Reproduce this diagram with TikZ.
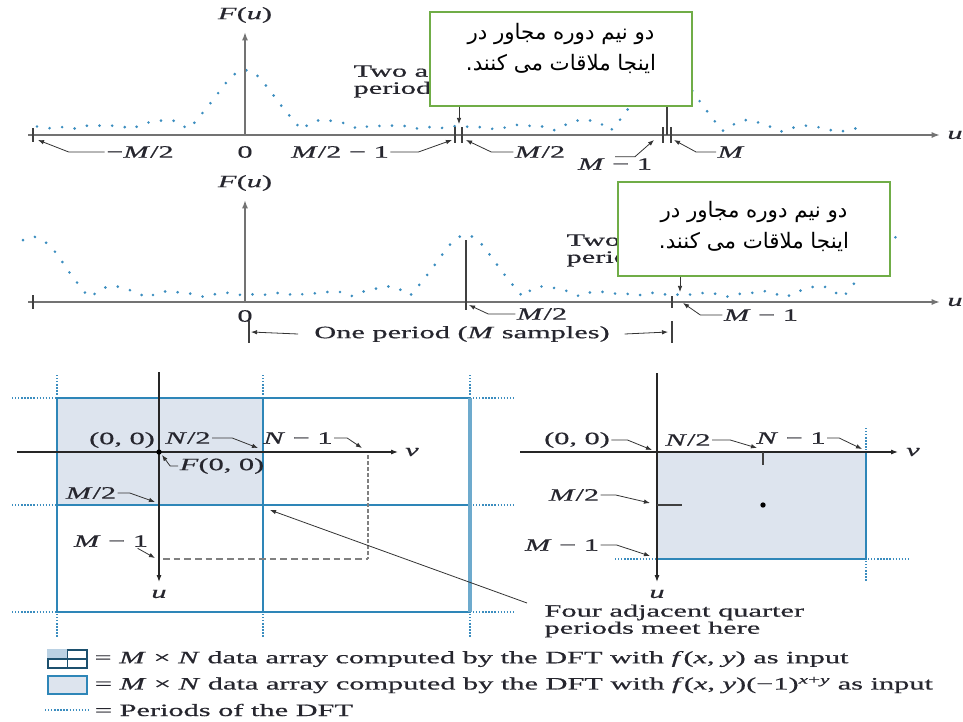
\documentclass[tikz,border=0pt]{standalone}
\usepackage{fontspec}
\setmainfont[FakeStretch=1.75, FakeBold=0.7]{Liberation Serif}
\newfontfamily\farsifont[Script=Arabic]{DejaVu Sans}
\TeXXeTstate=1
\usepackage{xcolor}
\usepackage{tikz}
\usetikzlibrary{arrows.meta,positioning}
\definecolor{dftblue}{HTML}{2E86B8}
\definecolor{dftfill}{HTML}{DDE4EE}
\definecolor{dftdots}{HTML}{3B8DBF}
\definecolor{dftgreen}{HTML}{70AD47}
\definecolor{dftink}{HTML}{26262E}
\newcommand{\mv}[1]{\textit{#1}}
\newcommand{\farsinote}{\beginR دو نیم دوره مجاور در\endR\\
  \beginR اینجا ملاقات می کنند.\endR}
\tikzset{
  dftaxis/.style={-{Latex[length=2.2mm, width=1.6mm]}, line width=1.3pt,
    draw=black!55},
  dftaxisthin/.style={-{Latex[length=1.8mm, width=1.3mm]}, line width=0.8pt,
    draw=black!85},
  dftleader/.style={-{Latex[length=1.6mm, width=1.2mm]}, line width=0.6pt,
    draw=black!80},
  dfttick/.style={line width=1.2pt, draw=black!75},
  dftcurve/.style={draw=dftdots, line width=2.2pt, line cap=round,
    dash pattern=on 0pt off 9.5pt},
  dftgrid/.style={draw=dftblue, line width=1.3pt},
  dftperiod/.style={draw=dftdots, line width=1pt,
    dash pattern=on 1pt off 1.3pt},
  dftlabel/.style={font=\fontsize{13}{11.3}\selectfont, text=dftink,
    inner sep=1pt},
  dftnote/.style={draw=dftgreen, line width=1.6pt, fill=white},
  dftnotetext/.style={align=center, inner sep=0pt,
    font=\farsifont\fontsize{16}{23}\selectfont},
  declare function={snc(\t)=abs(sin(180*(\t+0.0013)))/(pi*abs(\t+0.0013));}
}

\begin{document}
\begin{tikzpicture}[x=0.75pt, y=-0.75pt]
  \useasboundingbox (0,0) rectangle (963,721);

  % first plot: F(u) centred at 0
  \coordinate (p1L) at (28,135);
  \coordinate (p1R) at (940,135);
  \coordinate (p1o) at (245,135);
  \coordinate (p1top) at (245,32);
  \node[dftlabel] (p1u) at (955,135) {\mv{u}};
  \node[dftlabel] (p1F) at (245,15) {\mv{F}(\mv{u})};
  \draw[dftcurve] plot[domain=37:863, samples=207]
    (\x, {135-60*(snc((\x-245)/57)+snc((\x-667)/57)+snc((\x+177)/57))});
  \draw[dftaxis] (p1L) -- (p1R);
  \draw[dftaxis, line width=2pt] (p1o) -- (p1top);
  \draw[dfttick, line width=2pt] (33,128) -- (33,142);
  \draw[dfttick] (455,127) -- (455,143) (462,127) -- (462,143);
  \draw[dfttick] (663,127) -- (663,143) (671,127) -- (671,143);
  \draw[dfttick] (667,75) -- (667,135);
  \node[dftlabel, align=left, anchor=west] (two1) at (352,81)
    {Two adjacent half\\periods meet here};

  \coordinate (t1mhalf) at (38,140);
  \coordinate (t1halfm) at (452,140);
  \coordinate (t1half) at (466,140);
  \coordinate (t1Mm) at (654,140);
  \coordinate (t1M) at (674,140);
  \coordinate (t1meet) at (459,124);
  \node[dftlabel] (l1mhalf) at (140,152) {−\mv{M}/2};
  \node[dftlabel] (l1zero) at (245,152) {0};
  \node[dftlabel] (l1halfm) at (340,152) {\mv{M}/2 − 1};
  \node[dftlabel] (l1half) at (540,152) {\mv{M}/2};
  \node[dftlabel] (l1Mm) at (615,164) {\mv{M} − 1};
  \node[dftlabel] (l1M) at (731,152) {\mv{M}};
  \draw[dftleader] (l1mhalf.west) -- ++(-36,0) -- (t1mhalf);
  \draw[dftleader] (l1halfm.east) -- ++(28,0) -- (t1halfm);
  \draw[dftleader] (l1half.west) -- ++(-22,0) -- (t1half);
  \draw[dftleader] (l1Mm.north) -- ++(20,0) -- (t1Mm);
  \draw[dftleader] (l1M.west) -- ++(-20,0) -- (t1M);

  \node[dftnote, minimum width=196pt, minimum height=70pt] (note1)
    at (561,59) {};
  \node[dftnotetext] (note1txt) at ([yshift=8pt]note1.center) {\farsinote};
  \draw[dftleader] (note1.south -| t1meet) -- (t1meet);

  % second plot: F(u) centred at M/2
  \coordinate (p2L) at (28,302);
  \coordinate (p2R) at (940,302);
  \coordinate (p2o) at (245,302);
  \coordinate (p2top) at (245,200);
  \node[dftlabel] (p2u) at (955,302) {\mv{u}};
  \node[dftlabel] (p2F) at (245,183) {\mv{F}(\mv{u})};
  \draw[dftcurve] plot[domain=23:903, samples=221]
    (\x, {302-62*(snc((\x-33)/57)+snc((\x-466)/57)+snc((\x-899)/57))});
  \draw[dftaxis] (p2L) -- (p2R);
  \draw[dftaxis, line width=2pt] (p2o) -- (p2top);
  \draw[dfttick, line width=2pt] (33,295) -- (33,309);
  \draw[dfttick] (466,240) -- (466,310);
  \draw[dfttick] (672,296) -- (672,308);
  \node[dftlabel, align=left, anchor=west] (two2) at (565,250)
    {Two adjacent half\\periods meet here};

  \coordinate (t2half) at (469,305);
  \coordinate (t2Mm) at (683,303);
  \coordinate (t2meet) at (680,292);
  \node[dftlabel] (l2zero) at (245,316) {0};
  \node[dftlabel] (l2half) at (542,314) {\mv{M}/2};
  \node[dftlabel] (l2Mm) at (761,315) {\mv{M} − 1};
  \draw[dftleader] (l2half.west) -- ++(-27,0) -- (t2half);
  \draw[dftleader] (l2Mm.west) -- ++(-22,0) -- (t2Mm);

  \node[dftlabel] (period) at (462,334) {One period (\mv{M} samples)};
  \coordinate (perL) at (251,332);
  \coordinate (perR) at (668,332);
  \draw[dfttick] (249,321) -- (249,343) (672,321) -- (672,343);
  \draw[dftleader] ([xshift=-11pt]period.west) -- (perL);
  \draw[dftleader] ([xshift=10pt]period.east) -- (perR);

  \node[dftnote, minimum width=204pt, minimum height=70pt] (note2)
    at (754,229) {};
  \node[dftnotetext] (note2txt) at ([yshift=2pt]note2.center) {\farsinote};
  \draw[dftleader] (note2.south -| t2meet) -- (t2meet);

  % 2-D array, f(x,y) as input
  \fill[dftfill] (57,398) rectangle (263,505);
  \draw[dftgrid] (57,398) rectangle (470,612);
  \draw[dftgrid] (263,398) -- (263,612) (57,505) -- (470,505);
  \draw[draw=dftblue!70, line width=2.6pt] (470,398) -- (470,612);
  \foreach \gx in {57,263,470} {
    \draw[dftperiod] (\gx,375) -- (\gx,396);
    \draw[dftperiod] (\gx,614) -- (\gx,637);
  }
  \foreach \gy in {398,505,612} {
    \draw[dftperiod] (12,\gy) -- (55,\gy);
    \draw[dftperiod] (473,\gy) -- (513,\gy);
  }
  \coordinate (gaTop) at (159,372);
  \coordinate (gaBot) at (159,582);
  \coordinate (gaLeft) at (17,452);
  \coordinate (gaRight) at (398,452);
  \node[dftlabel] (gau) at (159,594) {\mv{u}};
  \node[dftlabel] (gav) at (412,452) {\mv{v}};
  \draw[dftaxisthin] (gaTop) -- (gaBot);
  \draw[dftaxisthin] (gaLeft) -- (gaRight);
  \fill[black] (159,452) circle (2pt);
  \draw[draw=black!50, line width=1pt, dash pattern=on 5pt off 3pt]
    (163,559) -- (368,559);
  \draw[draw=black!50, line width=2.2pt, dash pattern=on 3pt off 1.5pt]
    (368,455) -- (368,559);

  \coordinate (taN2) at (258,448);
  \coordinate (taN1) at (362,448);
  \coordinate (taF) at (162,455);
  \coordinate (taM2) at (155,502);
  \coordinate (taM1) at (155,558);
  \coordinate (meet) at (270,510);
  \node[dftlabel] (la00) at (122,440) {(0, 0)};
  \node[dftlabel] (laN2) at (188,438) {\mv{N}/2};
  \node[dftlabel] (laN1) at (298,438) {\mv{N} − 1};
  \node[dftlabel] (laF) at (222,466) {\mv{F}(0, 0)};
  \node[dftlabel] (laM2) at (91,493) {\mv{M}/2};
  \node[dftlabel] (laM1) at (111,541) {\mv{M} − 1};
  \draw[dftleader] (laN2.east) -- ++(20,0) -- (taN2);
  \draw[dftleader] (laN1.east) -- ++(13,0) -- (taN1);
  \draw[dftleader] (laF.west) -- ++(-8,0) -- (taF);
  \draw[dftleader] (laM2.east) -- ++(12,0) -- (taM2);
  \draw[dftleader] ([xshift=-9pt]laM1.south east) -- (taM1);

  \node[dftlabel, align=left, anchor=north west] (quarter) at (543,603)
    {Four adjacent quarter\\periods meet here};
  \draw[dftleader] ([xshift=-12pt]quarter.north west) -- (meet);

  % 2-D array, f(x,y)(-1)^(x+y) as input
  \draw[dftgrid, fill=dftfill] (657,452) rectangle (866,559);
  \draw[dftperiod] (615,559) -- (655,559) (868,559) -- (908,559);
  \draw[dftperiod] (866,428) -- (866,450) (866,561) -- (866,582);
  \coordinate (gbTop) at (657,373);
  \coordinate (gbBot) at (657,582);
  \coordinate (gbLeft) at (520,452);
  \coordinate (gbRight) at (898,452);
  \node[dftlabel] (gbu) at (657,594) {\mv{u}};
  \node[dftlabel] (gbv) at (913,452) {\mv{v}};
  \draw[dftaxisthin] (gbTop) -- (gbBot);
  \draw[dftaxisthin] (gbLeft) -- (gbRight);
  \draw[dfttick, line width=1pt] (763,452) -- (763,465);
  \draw[dfttick, line width=1pt] (657,505) -- (682,505);
  \fill[black] (763,505) circle (2pt);

  \coordinate (tb00) at (652,450);
  \coordinate (tbN2) at (757,448);
  \coordinate (tbN1) at (862,449);
  \coordinate (tbM2) at (650,503);
  \coordinate (tbM1) at (650,556);
  \node[dftlabel] (lb00) at (577,440) {(0, 0)};
  \node[dftlabel] (lbN2) at (688,440) {\mv{N}/2};
  \node[dftlabel] (lbN1) at (791,438) {\mv{N} − 1};
  \node[dftlabel] (lbM2) at (574,495) {\mv{M}/2};
  \node[dftlabel] (lbM1) at (562,545) {\mv{M} − 1};
  \draw[dftleader] (lb00.east) -- ++(16,0) -- (tb00);
  \draw[dftleader] (lbN2.east) -- ++(18,0) -- (tbN2);
  \draw[dftleader] (lbN1.east) -- ++(12,0) -- (tbN1);
  \draw[dftleader] (lbM2.east) -- ++(15,0) -- (tbM2);
  \draw[dftleader] (lbM1.east) -- ++(16,0) -- (tbM1);

  % legend
  \node[draw=dftblue!60!black, line width=1.2pt, minimum width=29pt,
    minimum height=13.5pt, inner sep=0pt] (leg1) at (67.5,659) {};
  \fill[dftfill!80!dftblue] (leg1.north west) rectangle (leg1.center);
  \draw[draw=dftblue!60!black, line width=1.2pt]
    (leg1.north) -- (leg1.south) (leg1.west) -- (leg1.east);
  \node[draw=dftblue, fill=dftfill, line width=1.8pt, minimum width=29pt,
    minimum height=13.5pt, inner sep=0pt] (leg2) at (67.5,685) {};
  \coordinate (leg3a) at (45,710);
  \coordinate (leg3b) at (88,710);
  \draw[dftperiod] (leg3a) -- (leg3b);
  \node[dftlabel, right=4pt of leg1] (legtxt1)
    {= \mv{M} × \mv{N} data array computed by the DFT with
    \mv{f}(\mv{x}, \mv{y}) as input};
  \node[dftlabel, right=4pt of leg2] (legtxt2)
    {= \mv{M} × \mv{N} data array computed by the DFT with
    \mv{f}(\mv{x}, \mv{y})(−1)\textsuperscript{\mv{x}+\mv{y}} as input};
  \node[dftlabel, right=4pt of leg3b] (legtxt3) {= Periods of the DFT};
\end{tikzpicture}
\end{document}
